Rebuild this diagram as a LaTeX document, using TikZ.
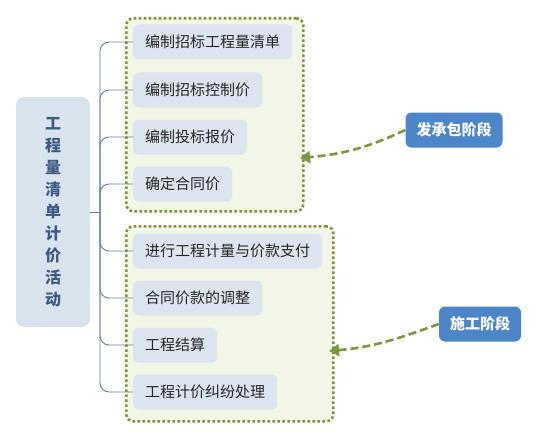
\documentclass[tikz,border=0pt]{standalone}
\usepackage{fontspec}
\newfontfamily\cjk{Noto Sans CJK SC}
\usetikzlibrary{arrows.meta}
\definecolor{childfill}{HTML}{DCE5EF}
\definecolor{rootfill}{HTML}{D9E3EE}
\definecolor{roottext}{HTML}{3D5A84}
\definecolor{grpfill}{HTML}{F1F6E6}
\definecolor{grpline}{HTML}{7D953A}
\definecolor{trunk}{HTML}{5E80A6}
\definecolor{labfill}{HTML}{4D86C8}
\definecolor{arrowc}{HTML}{7A973D}
\tikzset{
  child/.style={fill=childfill, rounded corners=5pt, minimum height=35pt, inner xsep=12pt,
    anchor=west, font=\cjk\fontsize{15pt}{18pt}\selectfont, text=black!85},
  grp/.style={fill=grpfill, draw=grpline, line width=2.6pt, dash pattern=on 2.6pt off 2.4pt,
    rounded corners=7pt, anchor=north west},
  rootbox/.style={fill=rootfill, rounded corners=8pt, minimum width=74pt, minimum height=230pt,
    text=roottext, align=center, font=\cjk\bfseries\fontsize{16pt}{22pt}\selectfont},
  lab/.style={fill=labfill, rounded corners=6pt, minimum height=35pt, inner xsep=11pt,
    text=white, font=\cjk\bfseries\fontsize{15pt}{18pt}\selectfont},
  branch/.style={draw=trunk, line width=0.9pt, rounded corners=9pt},
  phasearrow/.style={draw=arrowc, line width=2.6pt, dash pattern=on 8pt off 4pt,
    -{Triangle[length=10pt,width=12pt]}}
}
\begin{document}
\begin{tikzpicture}[x=1pt,y=-1pt]
\useasboundingbox (0,0) rectangle (538,436);
% groups
\node[grp, minimum width=177pt, minimum height=193pt] (g1) at (125,17) {};
\node[grp, minimum width=207pt, minimum height=195pt] (g2) at (125,225) {};
% root
\node[rootbox] (root) at (53,212) {工\\程\\量\\清\\单\\计\\价\\活\\动};
\coordinate (j) at (100,212);
% children
\node[child] (c1) at (133,42) {编制招标工程量清单};
\node[child] (c2) at (133,90) {编制招标控制价};
\node[child] (c3) at (133,137) {编制投标报价};
\node[child] (c4) at (133,184) {确定合同价};
\node[child] (c5) at (133,251) {进行工程计量与价款支付};
\node[child] (c6) at (133,298) {合同价款的调整};
\node[child] (c7) at (133,345) {工程结算};
\node[child] (c8) at (133,392) {工程计价纠纷处理};
% connectors
\draw[branch] (root.east) -- (j);
\foreach \c in {c1,c2,c3,c4,c5,c6,c7,c8}{
  \draw[branch] (j) |- (\c.west);
}
% phase labels
\node[lab] (l1) at (454,130) {发承包阶段};
\node[lab] (l2) at (480,324) {施工阶段};
\coordinate (a1) at (300,158);
\coordinate (a2) at (329,351);
\draw[phasearrow] (l1.west) to[out=205,in=5] (a1);
\draw[phasearrow] (l2.west) to[out=200,in=5] (a2);
\end{tikzpicture}
\end{document}
